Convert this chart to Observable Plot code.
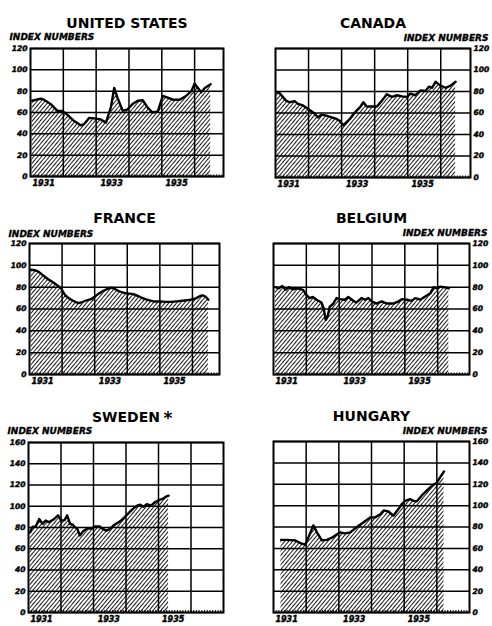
<!DOCTYPE html>
<html><head><meta charset="utf-8">
<script src="https://cdn.jsdelivr.net/npm/d3@7"></script>
<script src="https://cdn.jsdelivr.net/npm/@observablehq/plot@0.6"></script>
<style>
html,body{margin:0;padding:0;background:#fff;}
#wrap{position:relative;width:492px;height:626px;overflow:hidden;background:#fff;}
.panel{position:absolute;}
</style></head><body>
<svg width="0" height="0" style="position:absolute"><defs>
<pattern id="hatch" patternUnits="userSpaceOnUse" width="3" height="3" patternTransform="rotate(40)"><line x1="0.5" y1="-1" x2="0.5" y2="4" stroke="#000" stroke-width="0.9"/></pattern></defs></svg>
<div id="wrap"></div>
<script>
// ---- Data: [decimal year, index number] ----
const unitedStates = [[1931.05,71],[1931.31,73],[1931.41,72],[1931.61,68],[1931.82,61.5],[1931.97,61.5],[1932.12,58],[1932.33,52],[1932.53,48],[1932.63,49],[1932.79,55],[1932.94,54.5],[1933.14,53.5],[1933.30,50.5],[1933.45,65],[1933.55,83],[1933.65,74],[1933.81,61.5],[1933.96,63],[1934.11,68],[1934.27,71],[1934.42,71.5],[1934.57,64.5],[1934.72,60],[1934.88,61],[1935.03,75.5],[1935.18,74],[1935.34,72],[1935.54,72],[1935.74,75.5],[1935.90,80],[1936.00,87],[1936.10,83],[1936.20,79],[1936.31,83],[1936.49,86.5]];
const canada = [[1931.04,79.5],[1931.12,78.5],[1931.22,75],[1931.32,71.5],[1931.43,70],[1931.58,71],[1931.68,68.5],[1931.83,67],[1931.98,64],[1932.14,60.5],[1932.29,56],[1932.39,58.5],[1932.54,57.5],[1932.70,56],[1932.85,54.5],[1932.95,52.5],[1933.05,48.5],[1933.15,51.5],[1933.25,54.5],[1933.36,59],[1933.46,62.5],[1933.56,65.5],[1933.66,70],[1933.76,66],[1933.91,66],[1934.07,66],[1934.22,71.5],[1934.37,77.5],[1934.52,75],[1934.68,76.5],[1934.83,75.5],[1934.98,75],[1935.08,78],[1935.23,76.5],[1935.39,81],[1935.54,80.5],[1935.64,84.5],[1935.74,83.5],[1935.84,89],[1935.99,85.5],[1936.15,83.5],[1936.30,85.5],[1936.45,89]];
const france = [[1931.05,96],[1931.23,95],[1931.39,91.5],[1931.54,88],[1931.74,84],[1931.95,79.5],[1932.10,72.5],[1932.31,68],[1932.51,65.5],[1932.71,67.5],[1932.92,69.5],[1933.12,74],[1933.33,77.5],[1933.53,79.5],[1933.73,76.5],[1933.94,74.5],[1934.19,73.5],[1934.40,71],[1934.60,68.5],[1934.81,67],[1935.01,67],[1935.21,66.5],[1935.52,67],[1935.83,68],[1936.08,69.5],[1936.29,72.5],[1936.39,71.5],[1936.49,68.5]];
const belgium = [[1931.06,80],[1931.16,79],[1931.27,81],[1931.37,77.5],[1931.47,80],[1931.59,78],[1931.74,79],[1931.90,77.5],[1932.00,73],[1932.10,70],[1932.20,71],[1932.31,68.5],[1932.46,66],[1932.53,60.5],[1932.59,50],[1932.66,54.5],[1932.71,62],[1932.82,65],[1932.92,70],[1933.02,69],[1933.17,68.5],[1933.28,71],[1933.43,67.5],[1933.53,66],[1933.68,70],[1933.79,68.5],[1933.89,70],[1933.99,67],[1934.14,65],[1934.30,67],[1934.45,65],[1934.65,65],[1934.81,67],[1934.91,69],[1935.06,68.5],[1935.21,67.5],[1935.32,70],[1935.47,68.5],[1935.62,71.5],[1935.78,74.5],[1935.88,80],[1935.98,79],[1936.08,80.5],[1936.18,80],[1936.34,79]];
const sweden = [[1931.05,75.5],[1931.12,80.5],[1931.22,81],[1931.33,88],[1931.43,83.5],[1931.53,86.5],[1931.63,85],[1931.79,88],[1931.91,91.5],[1932.01,86.5],[1932.11,87],[1932.19,91.5],[1932.28,83.5],[1932.35,83],[1932.42,80.5],[1932.50,79],[1932.58,72.5],[1932.68,76.5],[1932.81,79],[1932.93,79],[1933.06,81],[1933.19,81],[1933.27,79],[1933.40,77],[1933.52,79],[1933.62,82],[1933.72,84],[1933.83,86],[1933.95,89.5],[1934.08,93.5],[1934.21,97.5],[1934.34,100.5],[1934.44,101.5],[1934.54,99.5],[1934.64,102],[1934.77,100.5],[1934.90,104],[1935.03,106],[1935.13,107],[1935.23,109],[1935.31,110]];
const hungary = [[1931.23,68],[1931.41,68],[1931.66,67.5],[1931.82,65],[1931.97,63.5],[1932.07,70.5],[1932.22,81.5],[1932.33,75],[1932.48,67.5],[1932.63,68],[1932.79,70],[1932.89,72],[1933.04,75],[1933.19,74],[1933.35,75],[1933.55,80],[1933.76,84.5],[1933.96,89],[1934.11,89],[1934.27,92],[1934.37,95.5],[1934.52,94.5],[1934.67,90.5],[1934.83,97],[1934.93,101.5],[1935.03,104.5],[1935.18,106],[1935.29,104.5],[1935.39,104],[1935.54,109.5],[1935.69,114],[1935.85,118.5],[1936.00,121.5],[1936.10,126.5],[1936.22,132]];

const yearLines = [1932, 1933, 1934, 1935, 1936];
const xTickPos = [1931.4, 1933.47, 1935.45];
const xTickLabels = ["1931", "1933", "1935"];
const yTicks120 = [0, 20, 40, 60, 80, 100, 120];
const yTicks160 = [0, 20, 40, 60, 80, 100, 120, 140, 160];
const yAxisTitle = "INDEX NUMBERS";

const panels = [
  {title:"UNITED STATES", data:unitedStates, left:0,   top:0,   height:200, mL:30, mR:23, mT:48, mB:24, xMax:1936.88, yTicks:yTicks120, side:"left",  idxDy:-15},
  {title:"CANADA",        data:canada,       left:246, top:0,   height:200, mL:29, mR:22, mT:48, mB:23, xMax:1936.9,  yTicks:yTicks120, side:"right", idxDy:-14},
  {title:"FRANCE",        data:france,       left:0,   top:200, height:200, mL:29, mR:27, mT:43, mB:26, xMax:1936.83, yTicks:yTicks120, side:"left",  idxDy:-13, curve:"catmull-rom"},
  {title:"BELGIUM",       data:belgium,      left:246, top:200, height:200, mL:27, mR:23, mT:43, mB:26, xMax:1936.97, yTicks:yTicks120, side:"right", idxDy:-13.5},
  {title:"SWEDEN",        data:sweden,       left:0,   top:400, height:226, mL:28, mR:23, mT:42, mB:14, xMax:1937,    yTicks:yTicks160, side:"left",  idxDy:-15, mark:true},
  {title:"HUNGARY",       data:hungary,      left:246, top:400, height:226, mL:27, mR:23, mT:41, mB:14, xMax:1937,    yTicks:yTicks160, side:"right", idxDy:-14}
];

const FONT = "DejaVu Sans";
const wrap = document.getElementById("wrap");

for (const p of panels) {
  const yMax = p.yTicks[p.yTicks.length - 1];
  const left = p.side === "left";
  const monthTicks = d3.range(1931, p.xMax, 1 / 12);
  const marks = [
    Plot.areaY(p.data, {x: d => d[0], y: d => d[1], fill: "url(#hatch)", curve: p.curve || "linear"}),
    Plot.ruleX(monthTicks, {y1: 0, y2: yMax * 0.012, stroke: "#000", strokeWidth: 1}),
    Plot.ruleY(p.yTicks, {stroke: "#000", strokeWidth: 1.5}),
    Plot.ruleX(yearLines, {stroke: "#000", strokeWidth: 1.5}),
    Plot.frame({stroke: "#000", strokeWidth: 2}),
    Plot.lineY(p.data, {x: d => d[0], y: d => d[1], stroke: "#000", strokeWidth: 2.4, curve: p.curve || "linear", strokeLinejoin: "round"}),
    Plot.text(p.yTicks, {y: d => d, text: d => String(d), frameAnchor: left ? "left" : "right", dx: left ? -3 : 3,
      textAnchor: left ? "end" : "start", fontFamily: FONT, fontSize: 7.5, fontWeight: "bold", fontStyle: "italic",
      fill: "#000", stroke: "#000", strokeWidth: 0.45, ariaLabel: "ytick"}),
    Plot.text(xTickPos, {x: d => d, text: (d, i) => xTickLabels[i], frameAnchor: "bottom", dy: 9,
      fontFamily: FONT, fontSize: 8, fontWeight: "bold", fontStyle: "italic", fill: "#000", stroke: "#000", strokeWidth: 0.45, ariaLabel: "xtick"}),
    Plot.text([p.title], {text: d => d, frameAnchor: "top", dy: -30.5, fontFamily: FONT, fontSize: 14, fontWeight: "bold", fill: "#000", ariaLabel: "title"}),
    Plot.text([yAxisTitle], {text: d => d, frameAnchor: left ? "top-left" : "top-right", dx: left ? -21 : 18, dy: p.idxDy,
      textAnchor: left ? "start" : "end", fontFamily: FONT, fontSize: 9, fontWeight: "bold", fontStyle: "italic",
      fill: "#000", stroke: "#000", strokeWidth: 0.35, ariaLabel: "idx"})
  ];
  if (p.mark) {
    marks.push(Plot.text(["*"], {text: d => d, frameAnchor: "top", dx: 42, dy: -31, fontFamily: FONT, fontSize: 17, fontWeight: "bold", fill: "#000"}));
  }
  const chart = Plot.plot({
    width: 246, height: p.height,
    marginLeft: p.mL, marginRight: p.mR, marginTop: p.mT, marginBottom: p.mB,
    x: {domain: [1931, p.xMax], axis: null},
    y: {domain: [0, yMax], axis: null},
    style: {background: "#fff", overflow: "visible"},
    marks
  });
  const s = d3.select(chart);
  s.select('g[aria-label="title"]').attr("letter-spacing", "1.5px");
  s.select('g[aria-label="idx"]').attr("letter-spacing", "1px");
  s.select('g[aria-label="ytick"]').attr("letter-spacing", "0.6px");
  const div = document.createElement("div");
  div.className = "panel";
  div.style.left = p.left + "px";
  div.style.top = p.top + "px";
  div.appendChild(chart);
  wrap.appendChild(div);
}
</script>
</body></html>
